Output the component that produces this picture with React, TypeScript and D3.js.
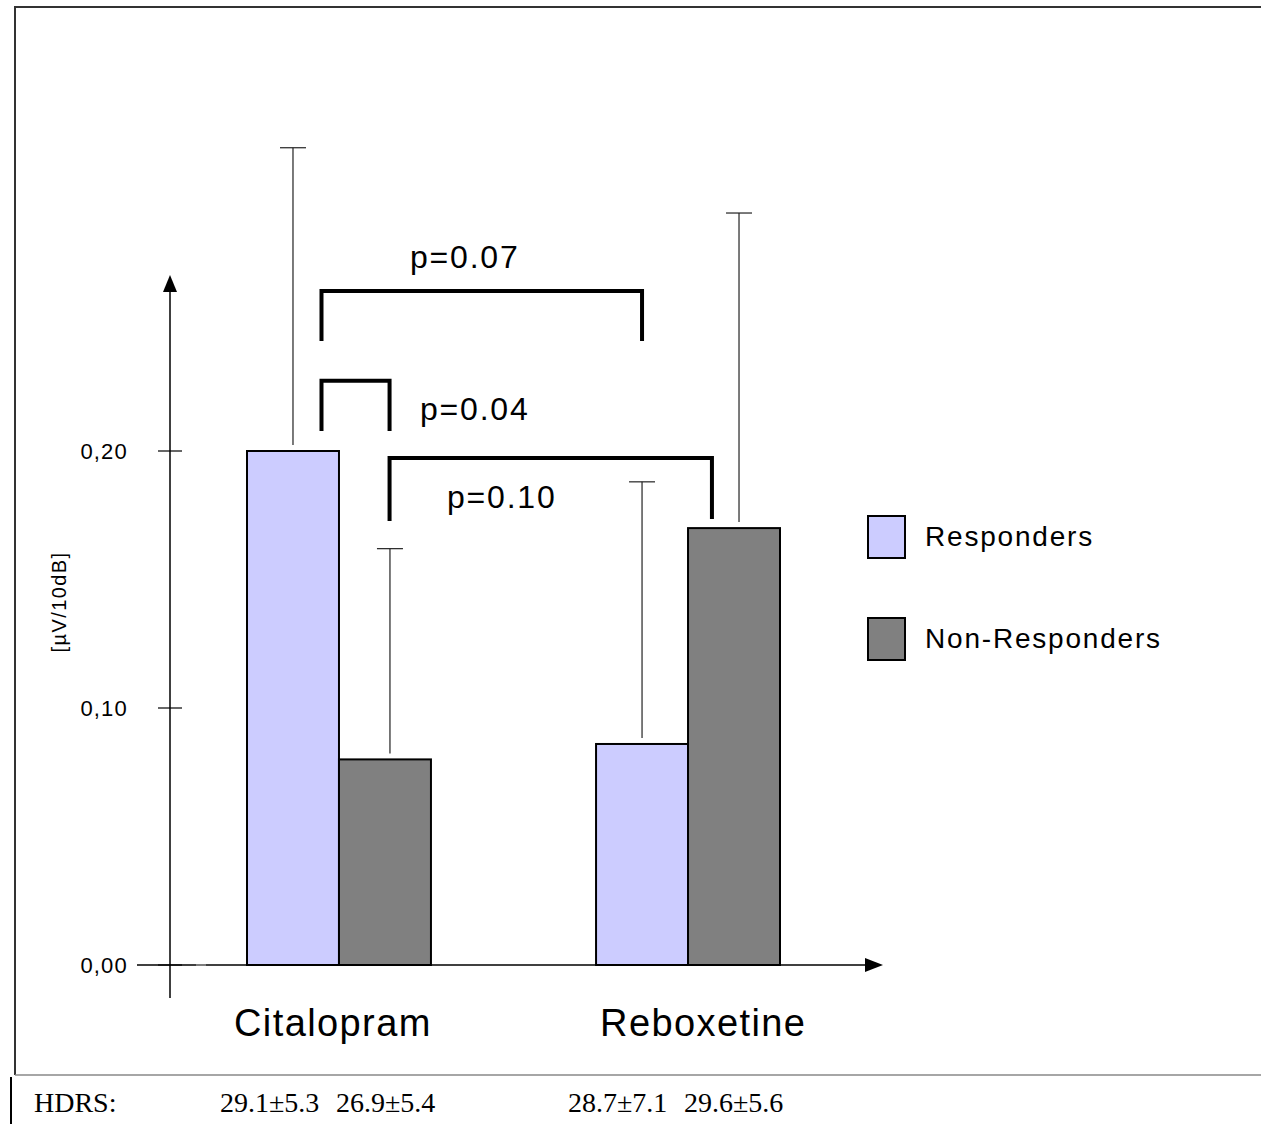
import React from "react";
import * as d3 from "d3";

const categories = ["Citalopram", "Reboxetine"];
const seriesNames = ["Responders", "Non-Responders"];
const seriesColors = ["#ccccff", "#808080"];
const responderMeans = [0.2, 0.086];
const nonResponderMeans = [0.08, 0.17];
const responderSD = [0.118, 0.102];
const nonResponderSD = [0.082, 0.1226];
const yTicks = [0, 0.1, 0.2];
const hdrsLabel = "HDRS:";
const hdrsValues = ["29.1±5.3", "26.9±5.4", "28.7±7.1", "29.6±5.6"];
// brackets: [group, series, fraction across bar] for both ends, top value, leg bottom values, label
const brackets = [
  { label: "p=0.07", a: [0, 0, 0.81], b: [1, 0, 0.5], top: 0.2623, legA: 0.2428, legB: 0.2428 },
  { label: "p=0.04", a: [0, 0, 0.81], b: [0, 1, 0.55], top: 0.2273, legA: 0.2078, legB: 0.2078 },
  { label: "p=0.10", a: [0, 1, 0.55], b: [1, 1, 0.26], top: 0.1973, legA: 0.1728, legB: 0.1735 },
];

const W = 1261;
const H = 1124;
const SANS = "'Liberation Sans', Arial, Helvetica, sans-serif";
const SERIF = "'Liberation Serif', 'Times New Roman', serif";

export default function App() {
  const y = d3.scaleLinear().domain([0, 0.2]).range([965, 451]);
  const x0 = d3.scaleBand<string>().domain(categories).range([247, 780]).paddingInner(0.473).paddingOuter(0);
  const x1 = d3.scaleBand<string>().domain(seriesNames).range([0, x0.bandwidth()]).padding(0);
  const means = [responderMeans, nonResponderMeans];
  const sds = [responderSD, nonResponderSD];
  const errOffset = [[0, 0], [5, 5]];

  const bx = (g: number, s: number, f: number) =>
    (x0(categories[g]) as number) + (x1(seriesNames[s]) as number) + x1.bandwidth() * f;

  const labelPos = [
    { x: 410, y: 268 },
    { x: 420, y: 420 },
    { x: 447, y: 508 },
  ];
  const catStart = [-13, 4];
  const hdrsX = [220, 336, 568, 684];

  return (
    <svg width={W} height={H} style={{ position: "absolute", left: 0, top: 0, background: "#fff" }}>
      {/* frame */}
      <path d={`M15,1075 L15,7 L${W},7`} fill="none" stroke="#333" strokeWidth={2} />
      <line x1={15} x2={W} y1={1075} y2={1075} stroke="#888" strokeWidth={1.5} />
      <line x1={11} x2={11} y1={1077} y2={H} stroke="#000" strokeWidth={2} />

      {/* y axis */}
      <line x1={170} x2={170} y1={998} y2={290} stroke="#000" strokeWidth={1.5} />
      <path d="M170,275 L163,292 L177,292 Z" fill="#000" />
      {yTicks.map((t) => (
        <g key={t}>
          <line x1={158} x2={182} y1={y(t)} y2={y(t)} stroke="#000" strokeWidth={1.2} />
          <text x={128} y={y(t) + 8} textAnchor="end" fontFamily={SANS} fontSize={22} letterSpacing={1.2}>
            {d3.format(".2f")(t).replace(".", ",")}
          </text>
        </g>
      ))}
      <text transform="translate(66,602) rotate(-90)" textAnchor="middle" fontFamily={SANS} fontSize={20} letterSpacing={1.4}>
        [µV/10dB]
      </text>

      {/* x axis */}
      <line x1={137} x2={868} y1={y(0)} y2={y(0)} stroke="#000" strokeWidth={1.5} />
      <path d="M883,965 L865,958 L865,972 Z" fill="#000" />
      <line x1={196} x2={206} y1={y(0)} y2={y(0)} stroke="#bbb" strokeWidth={1} />

      {/* error bars */}
      {categories.map((c, g) =>
        seriesNames.map((s, si) => {
          const cx = bx(g, si, 0.5) + errOffset[si][g];
          const top = y(means[si][g] + sds[si][g]);
          return (
            <g key={c + s + "e"}>
              <line x1={cx} x2={cx} y1={y(means[si][g]) - 6} y2={top} stroke="#222" strokeWidth={1.2} />
              <line x1={cx - 13} x2={cx + 13} y1={top} y2={top} stroke="#222" strokeWidth={1.2} />
            </g>
          );
        })
      )}

      {/* bars */}
      {categories.map((c, g) =>
        seriesNames.map((s, si) => (
          <rect
            key={c + s}
            x={bx(g, si, 0)}
            y={y(means[si][g])}
            width={x1.bandwidth()}
            height={y(0) - y(means[si][g])}
            fill={seriesColors[si]}
            stroke="#000"
            strokeWidth={2}
          />
        ))
      )}

      {/* category labels */}
      {categories.map((c, g) => (
        <text key={c} x={(x0(c) as number) + catStart[g]} y={1036} fontFamily={SANS} fontSize={38} letterSpacing={1.4}>
          {c}
        </text>
      ))}

      {/* significance brackets */}
      {brackets.map((b, i) => {
        const xa = bx(b.a[0], b.a[1], b.a[2]);
        const xb = bx(b.b[0], b.b[1], b.b[2]);
        return (
          <g key={b.label}>
            <path
              d={`M${xa},${y(b.legA)} L${xa},${y(b.top)} L${xb},${y(b.top)} L${xb},${y(b.legB)}`}
              fill="none"
              stroke="#000"
              strokeWidth={4}
            />
            <text x={labelPos[i].x} y={labelPos[i].y} fontFamily={SANS} fontSize={32} letterSpacing={1.8}>
              {b.label}
            </text>
          </g>
        );
      })}

      {/* legend */}
      {seriesNames.map((s, i) => (
        <g key={s} transform={`translate(868,${516 + i * 102})`}>
          <rect x={0} y={0} width={37} height={42} fill={seriesColors[i]} stroke="#000" strokeWidth={2} />
          <text x={57} y={30} fontFamily={SANS} fontSize={28} letterSpacing={1.8}>
            {s}
          </text>
        </g>
      ))}

      {/* HDRS */}
      <text x={34} y={1112} fontFamily={SERIF} fontSize={28}>
        {hdrsLabel}
      </text>
      {hdrsValues.map((v, i) => (
        <text key={v} x={hdrsX[i]} y={1112} fontFamily={SERIF} fontSize={28}>
          {v}
        </text>
      ))}
    </svg>
  );
}
